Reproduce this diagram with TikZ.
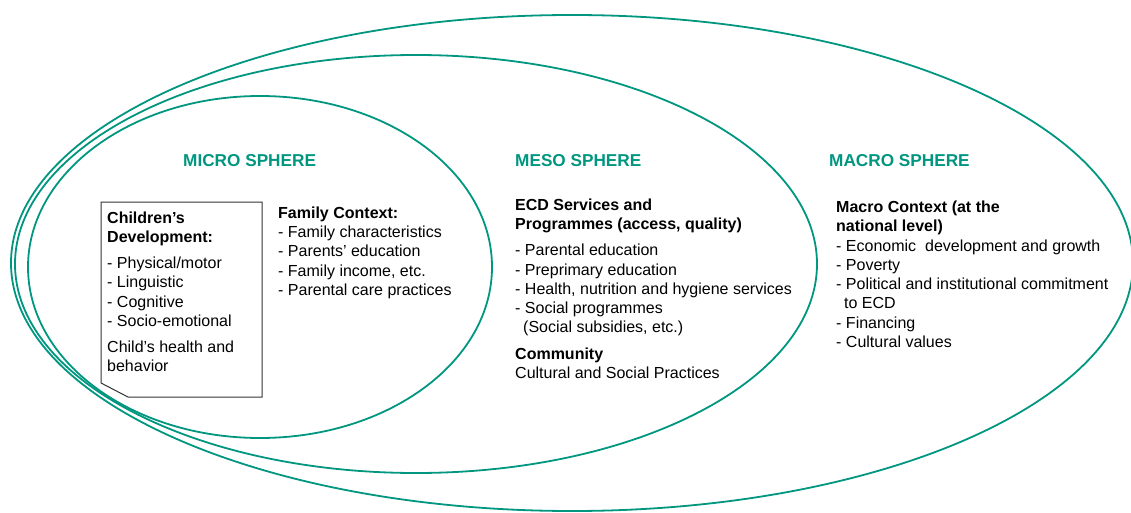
\documentclass[tikz,border=0pt]{standalone}
\usepackage{fontspec}
\setmainfont{Liberation Sans}
\definecolor{ecdgreen}{HTML}{00967F}
\definecolor{boxgray}{HTML}{333333}
\begin{document}
\begin{tikzpicture}[x=1pt,y=-1pt,
  sphere/.style={draw=ecdgreen,line width=1.8pt},
  boxline/.style={draw=boxgray,line width=1pt},
  title/.style={font=\fontsize{17.2}{20}\selectfont\bfseries,text=ecdgreen,anchor=base west,inner sep=0},
  body/.style={font=\fontsize{16}{19.3}\selectfont,align=left,anchor=base west,inner sep=0}]
\useasboundingbox (0,0) rectangle (1131,513);
\begin{scope}
\clip (0,0) rectangle (1131,513);
\draw[sphere] (572,263) ellipse [x radius=561pt, y radius=248pt];
\draw[sphere] (416,264) ellipse [x radius=401pt, y radius=209pt];
\draw[sphere] (260,267) ellipse [x radius=232pt, y radius=171pt];
\end{scope}
\node[title] (micro) at (183,167) {MICRO SPHERE};
\node[title] (meso) at (515,167) {MESO SPHERE};
\node[title] (macro) at (829,167) {MACRO SPHERE};
\draw[boxline] (101,202) -- (262,202) -- (262,397) -- (128,397) -- (101,383) -- cycle;
\node[body] (child) at (107,371.5) {\textbf{Children’s}\\\textbf{Development:}\\[6.5pt]- Physical/motor\\- Linguistic\\- Cognitive\\- Socio-emotional\\[6.5pt]Child’s health and\\behavior};
\node[body] (family) at (278,295.5) {\textbf{Family Context:}\\- Family characteristics\\- Parents’ education\\- Family income, etc.\\- Parental care practices};
\node[body] (ecd) at (515,378.5) {\textbf{ECD Services and}\\\textbf{Programmes (access, quality)}\\[7pt]- Parental education\\- Preprimary education\\- Health, nutrition and hygiene services\\- Social programmes\\\hspace*{8pt}(Social subsidies, etc.)\\[7pt]\textbf{Community}\\Cultural and Social Practices};
\node[body] (macroctx) at (836,347.5) {\textbf{Macro Context (at the}\\\textbf{national level)}\\- Economic\ \ development and growth\\- Poverty\\- Political and institutional commitment\\\hspace*{8pt}to ECD\\- Financing\\- Cultural values};
\end{tikzpicture}
\end{document}
